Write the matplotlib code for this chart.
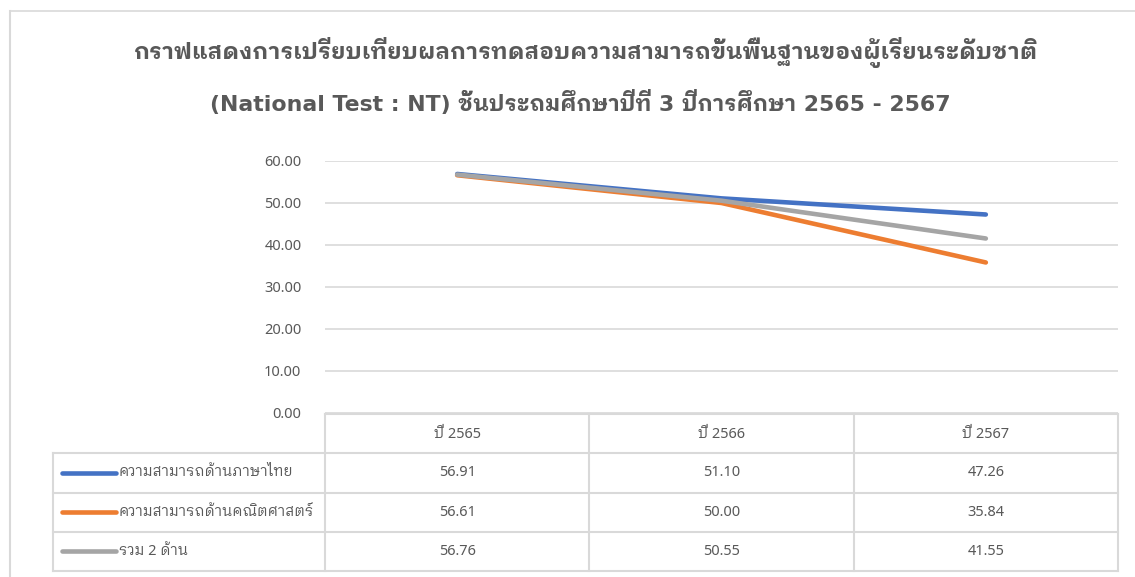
import matplotlib
matplotlib.use('Agg')
import matplotlib.pyplot as plt
from matplotlib.lines import Line2D

# ---- data ----
years = ["ปี 2565", "ปี 2566", "ปี 2567"]
series_names = ["ความสามารถด้านภาษาไทย", "ความสามารถด้านคณิตศาสตร์", "รวม 2 ด้าน"]
thai_scores = [56.91, 51.10, 47.26]
math_scores = [56.61, 50.00, 35.84]
total_scores = [56.76, 50.55, 41.55]
title_lines = ["กราฟแสดงการเปรียบเทียบผลการทดสอบความสามารถขั้นพื้นฐานของผู้เรียนระดับชาติ",
               "(National Test : NT) ชั้นประถมศึกษาปีที่ 3 ปีการศึกษา 2565 - 2567"]
y_ticks = [0, 10, 20, 30, 40, 50, 60]

series_values = [thai_scores, math_scores, total_scores]
colors = ["#4472C4", "#ED7D31", "#A5A5A5"]

FONT = ['Noto Sans', 'IBM Plex Sans Thai Looped', 'Loma']
TITLE_FONT = ['DejaVu Sans', 'IBM Plex Sans Thai Looped', 'Loma']
plt.rcParams['font.family'] = FONT
TXT = "#595959"
GRID = "#D9D9D9"

W, H = 1135, 577
fig = plt.figure(figsize=(W / 100, H / 100), dpi=100)

def fx(px):
    return px / W

def fy(py):
    return 1 - py / H

# outer chart border (left and top only visible)
fig.add_artist(Line2D([fx(10), fx(10)], [fy(11), 0], color=GRID, lw=1.5, transform=fig.transFigure))
fig.add_artist(Line2D([fx(10), 1], [fy(11), fy(11)], color=GRID, lw=1.2, transform=fig.transFigure))

# title
fig.text(fx(585), fy(52), title_lines[0], ha='center', va='center', fontsize=16.5,
         fontweight='bold', color=TXT, family=TITLE_FONT)
fig.text(fx(580), fy(102), title_lines[1], ha='center', va='center', fontsize=15.8,
         fontweight='bold', color=TXT, family=TITLE_FONT)

# plot area
L, R, T, B = 325, 1118, 161, 413
ax = fig.add_axes([fx(L), fy(B), fx(R) - fx(L), fy(T) - fy(B)])
x = list(range(len(years)))
ax.set_xlim(-0.5, len(years) - 0.5)
ax.set_ylim(0, 60)
ax.set_yticks(y_ticks)
ax.set_yticklabels([f"{v:.2f}" for v in y_ticks], fontsize=10.5, color=TXT)
ax.tick_params(axis='y', length=0, pad=17)
ax.set_xticks([])
ax.yaxis.grid(True, color=GRID, lw=1.2)
ax.set_axisbelow(True)
for s in ax.spines.values():
    s.set_visible(False)
for vals, c in zip(series_values, colors):
    ax.plot(x, vals, color=c, lw=3.3, solid_capstyle='round', solid_joinstyle='round', zorder=3)

# data table (shares x scale with plot)
TB = 571
axt = fig.add_axes([fx(L), fy(TB), fx(R) - fx(L), fy(B + 1) - fy(TB)], sharex=ax)
axt.set_ylim(len(series_names) + 1, 0)
axt.axis('off')
px_per_unit = (R - L) / len(years)

def dx(px):
    return -0.5 + (px - L) / px_per_unit

nrows = len(series_names) + 1
lkw = dict(color=GRID, lw=1.5, clip_on=False, solid_capstyle='projecting')
axt.plot([-0.5, len(years) - 0.5], [0, 0], **lkw)
for r in range(1, nrows + 1):
    axt.plot([dx(53), len(years) - 0.5], [r, r], **lkw)
for c in range(len(years) + 1):
    axt.plot([c - 0.5, c - 0.5], [0, nrows], **lkw)
axt.plot([dx(53), dx(53)], [1, nrows], **lkw)

for i, yl in enumerate(years):
    axt.text(i, 0.52, yl, ha='center', va='center', fontsize=10.5, color=TXT)
for r, (name, vals, c) in enumerate(zip(series_names, series_values, colors), start=1):
    axt.plot([dx(62), dx(116)], [r + 0.5, r + 0.5], color=c, lw=3.3,
             solid_capstyle='round', clip_on=False)
    axt.text(dx(119), r + 0.5, name, ha='left', va='center', fontsize=10.5, color=TXT)
    for i, v in enumerate(vals):
        axt.text(i, r + 0.5, f"{v:.2f}", ha='center', va='center', fontsize=10.5, color=TXT)

fig.savefig('out.png', dpi=100)
